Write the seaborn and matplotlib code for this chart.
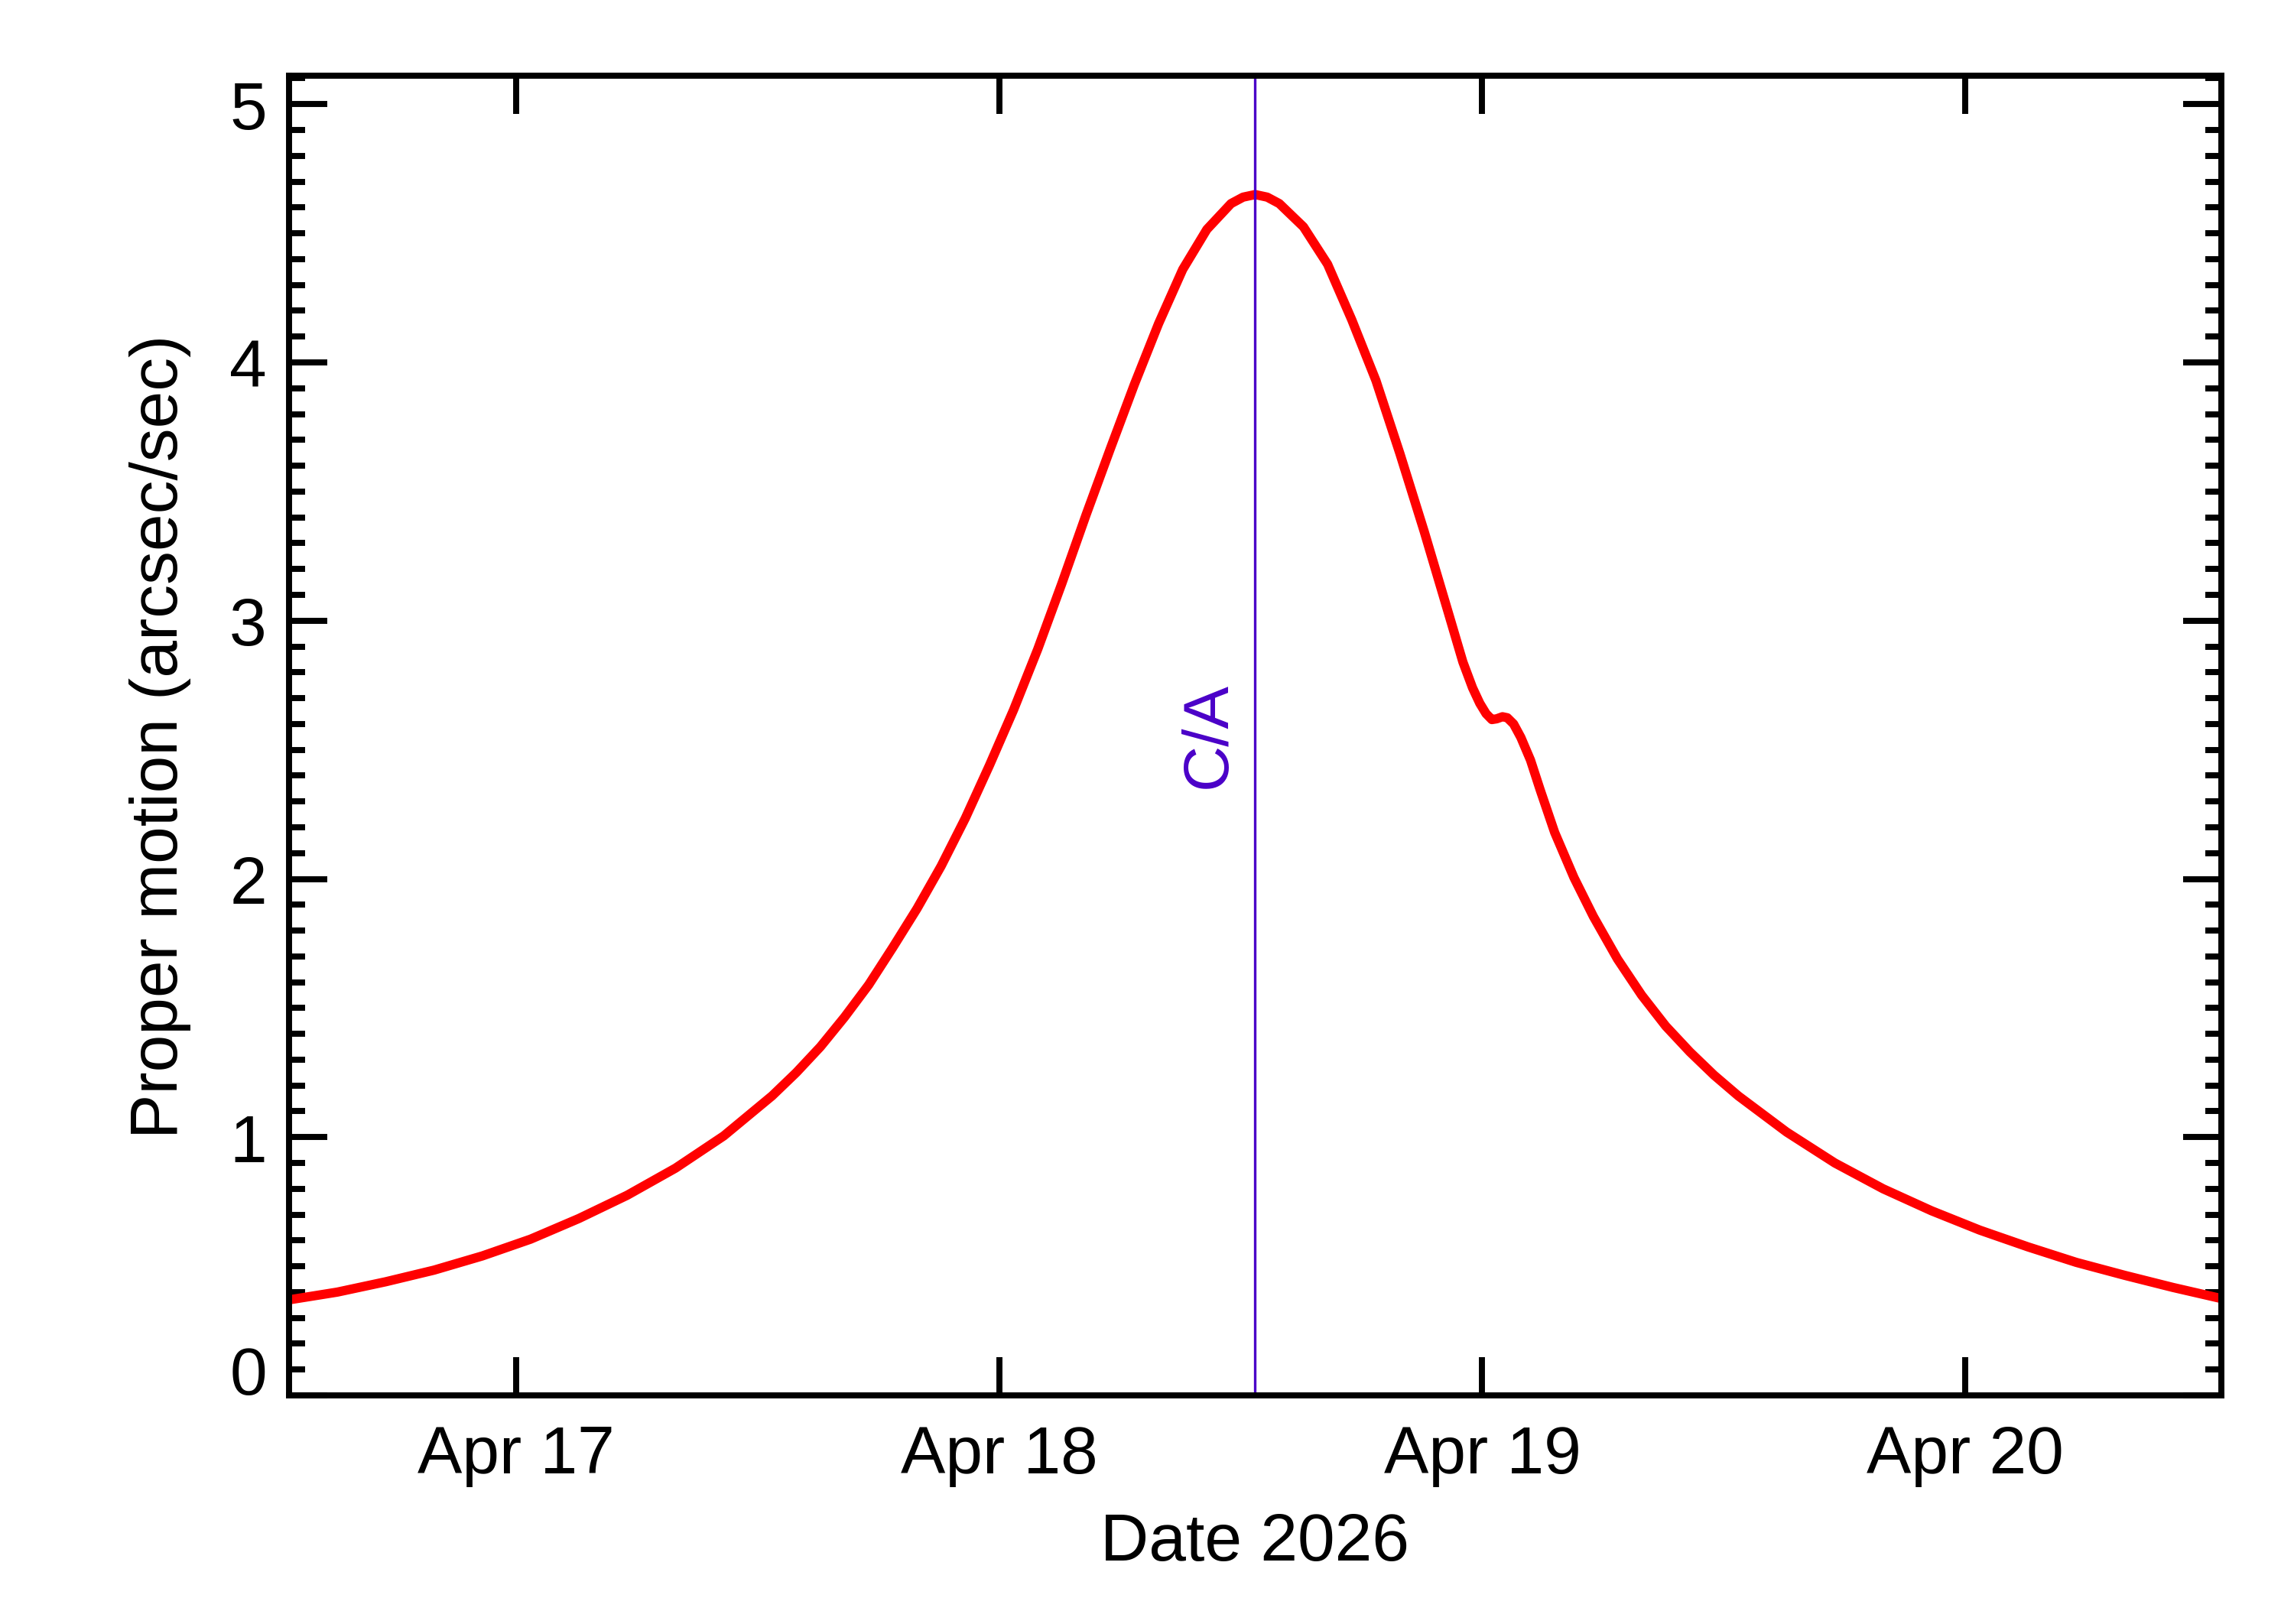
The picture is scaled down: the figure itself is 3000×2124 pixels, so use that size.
import matplotlib
matplotlib.use("Agg")
import matplotlib.pyplot as plt
import matplotlib.dates as mdates
from matplotlib.ticker import MultipleLocator, FuncFormatter
import pandas as pd
import seaborn as sns

# closest approach time, and days around it
ca_time = pd.Timestamp("2026-04-18 12:43")
days_from_ca = [-2.0, -1.9, -1.8, -1.7, -1.6, -1.5, -1.4, -1.3, -1.2, -1.1,
                -1.0, -0.95, -0.9, -0.85, -0.8, -0.75, -0.7, -0.65, -0.6,
                -0.55, -0.5, -0.45, -0.4, -0.35, -0.3, -0.25, -0.2, -0.15,
                -0.1, -0.05, -0.025, 0.0, 0.025, 0.05, 0.1, 0.15, 0.2, 0.25,
                0.3, 0.35, 0.4, 0.43, 0.45, 0.465, 0.478, 0.49, 0.50, 0.512,
                0.522, 0.535, 0.55, 0.57, 0.59, 0.62, 0.66, 0.70, 0.75, 0.8,
                0.85, 0.9, 0.95, 1.0, 1.1, 1.2, 1.3, 1.4, 1.5, 1.6, 1.7, 1.8,
                1.9, 2.0]
proper_motion = [0.37, 0.40, 0.44, 0.485, 0.54, 0.605, 0.685, 0.775, 0.88,
                 1.005, 1.16, 1.25, 1.35, 1.465, 1.59, 1.735, 1.885, 2.05,
                 2.235, 2.44, 2.655, 2.89, 3.145, 3.41, 3.665, 3.915, 4.15,
                 4.36, 4.515, 4.615, 4.64, 4.65, 4.64, 4.615, 4.525, 4.38,
                 4.165, 3.93, 3.645, 3.345, 3.03, 2.84, 2.74, 2.68, 2.64,
                 2.617, 2.62, 2.628, 2.624, 2.60, 2.548, 2.46, 2.345, 2.18,
                 2.005, 1.855, 1.69, 1.55, 1.43, 1.33, 1.24, 1.16, 1.02, 0.90,
                 0.80, 0.715, 0.64, 0.575, 0.515, 0.465, 0.418, 0.375]

df = pd.DataFrame({
    "date": ca_time + pd.to_timedelta(days_from_ca, unit="D"),
    "pm": proper_motion,
})

sns.set_style("ticks")
plt.rcParams["font.family"] = ["Liberation Sans", "DejaVu Sans"]
plt.rcParams["text.color"] = "black"
plt.rcParams["axes.labelcolor"] = "black"
plt.rcParams["xtick.color"] = "black"
plt.rcParams["ytick.color"] = "black"

fig = plt.figure(figsize=(10, 7.0833), dpi=300)
ax = fig.add_axes([0.126, 0.1407, 0.8423, 0.8122])

sns.lineplot(data=df, x="date", y="pm", color="#ff0000", linewidth=2.9, ax=ax)
ax.axvline(ca_time, color="#4a00c8", linewidth=0.8)
ax.annotate("C/A", xy=(mdates.date2num(ca_time), 2.56), xycoords="data",
            xytext=(-14.5, 0), textcoords="offset points",
            rotation=90, ha="center", va="center", fontsize=20, color="#4a00c8")

ax.set_xlim(ca_time - pd.Timedelta(days=2), ca_time + pd.Timedelta(days=2))
ax.set_ylim(0, 5.11)
ax.xaxis.set_major_locator(mdates.DayLocator())
ax.xaxis.set_major_formatter(mdates.DateFormatter("%b %d"))
ax.yaxis.set_major_locator(MultipleLocator(1))
ax.yaxis.set_minor_locator(MultipleLocator(0.1))
# zero is drawn by hand below, a little above its tick
ax.yaxis.set_major_formatter(FuncFormatter(lambda v, p: "" if v == 0 else f"{v:g}"))
ax.annotate("0", xy=(0, 0), xycoords=ax.get_yaxis_transform(),
            xytext=(-7, 6), textcoords="offset points",
            ha="right", va="center", fontsize=21, color="black")

ax.set_xlabel("Date 2026", fontsize=21, labelpad=8, color="black")
ax.set_ylabel("Proper motion (arcsec/sec)", fontsize=21, labelpad=12, color="black")

for s in ax.spines.values():
    s.set_linewidth(1.9)
    s.set_color("black")
ax.tick_params(which="both", direction="in", top=True, right=True,
               width=1.9, color="black", labelcolor="black", labelsize=21)
ax.tick_params(which="major", length=12)
ax.tick_params(which="minor", length=5)
ax.tick_params(axis="x", pad=9)
ax.tick_params(axis="y", pad=7)

fig.savefig("out.png", dpi=300, facecolor="white")
